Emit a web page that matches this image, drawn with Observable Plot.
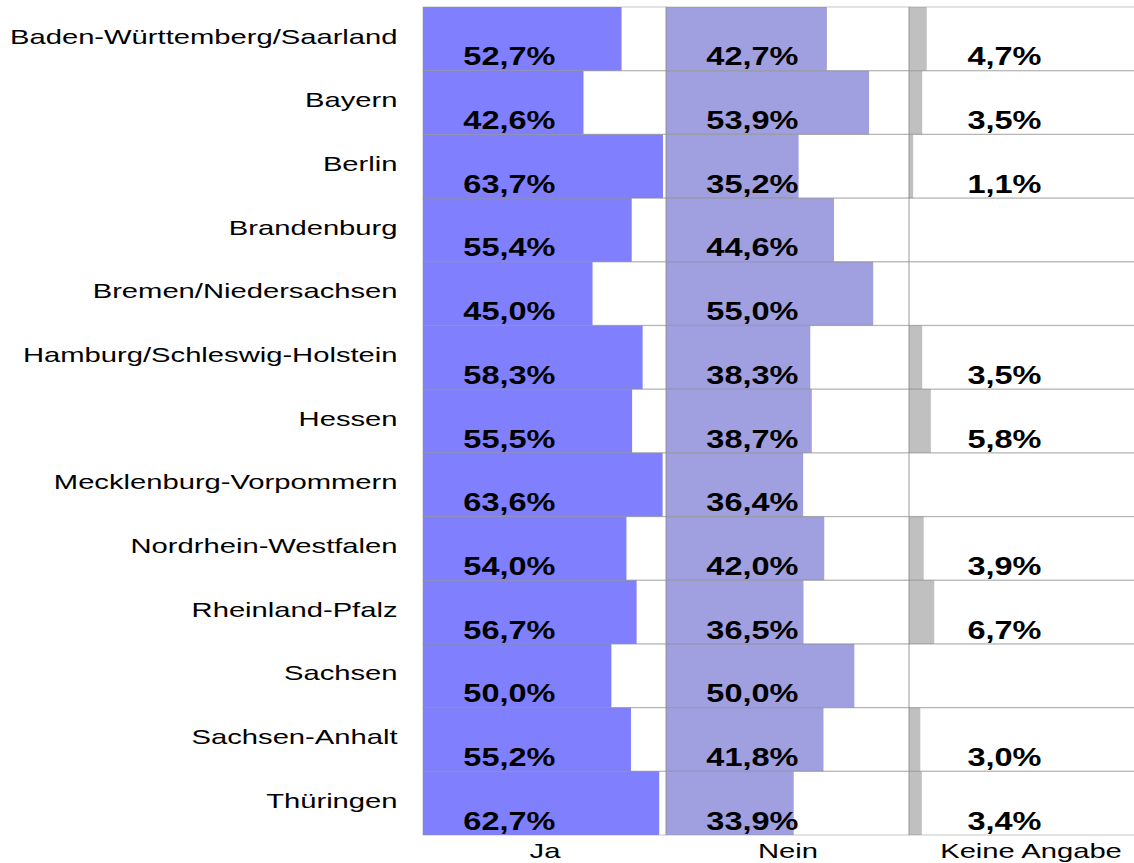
<!DOCTYPE html>
<html>
<head>
<meta charset="utf-8">
<script src="https://cdn.jsdelivr.net/npm/d3@7"></script>
<script src="https://cdn.jsdelivr.net/npm/@observablehq/plot@0.6"></script>
<style>
  html, body { margin: 0; padding: 0; background: white; overflow: hidden; }
</style>
</head>
<body>
<div id="chart"></div>
<script>
const states = [
  "Baden-Württemberg/Saarland", "Bayern", "Berlin", "Brandenburg",
  "Bremen/Niedersachsen", "Hamburg/Schleswig-Holstein", "Hessen",
  "Mecklenburg-Vorpommern", "Nordrhein-Westfalen", "Rheinland-Pfalz",
  "Sachsen", "Sachsen-Anhalt", "Thüringen"
];
const ja    = [52.7, 42.6, 63.7, 55.4, 45.0, 58.3, 55.5, 63.6, 54.0, 56.7, 50.0, 55.2, 62.7];
const nein  = [42.7, 53.9, 35.2, 44.6, 55.0, 38.3, 38.7, 36.4, 42.0, 36.5, 50.0, 41.8, 33.9];
const keine = [4.7, 3.5, 1.1, null, null, 3.5, 5.8, null, 3.9, 6.7, null, 3.0, 3.4];
const answers = ["Ja", "Nein", "Keine Angabe"];
const colors = ["#8080ff", "#a0a0e0", "#c0c0c0"];
const XMAX = 64.5;

const series = {"Ja": ja, "Nein": nein, "Keine Angabe": keine};
const rows = states.flatMap((s, i) => answers.map(a => ({state: s, answer: a, value: series[a][i]})))
  .filter(d => d.value != null);
const cells = states.flatMap(s => answers.map(a => ({state: s, answer: a})));
const fmt = v => v.toFixed(1).replace(".", ",") + "%";

const chart = Plot.plot({
  width: 1152,
  height: 863,
  marginLeft: 423,
  marginRight: 0,
  marginTop: 7,
  marginBottom: 28,
  style: {fontFamily: "'Liberation Sans', Arial, sans-serif", maxWidth: "none", background: "white", color: "black"},
  fx: {domain: answers, padding: 0, label: null, round: false},
  x: {domain: [0, XMAX], axis: null},
  y: {domain: states, padding: 0, label: null, axis: null, round: false},
  color: {domain: answers, range: colors},
  marks: [
    Plot.barX(rows, {fx: "answer", y: "state", x: "value", fill: "answer"}),
    Plot.barX(cells, {fx: "answer", y: "state", x: () => XMAX, fill: "none", stroke: "#8c8c8c", strokeOpacity: 0.4, strokeWidth: 1.2}),
    Plot.text(rows, {
      fx: "answer", y: "state", text: d => fmt(d.value),
      frameAnchor: "left", dx: 132, textAnchor: "end", lineAnchor: "bottom", dy: 26,
      fontSize: 25, fontWeight: "bold", fill: "black"
    }),
    Plot.axisY({tickSize: 0, tickPadding: 26, fontSize: 21, dy: -2.5, label: null}),
    Plot.axisFx({anchor: "bottom", tickSize: 0, tickPadding: 8, fontSize: 21, label: null})
  ]
});

// Source chart shows horizontally stretched lettering
chart.querySelectorAll("text").forEach(t => {
  const bold = t.closest('[font-weight="bold"]');
  const s = bold ? 1.3 : 1.39;
  const tr = t.getAttribute("transform") || "";
  t.setAttribute("transform", (tr + ` scale(${s},1)`).trim());
});

document.getElementById("chart").appendChild(chart);
</script>
</body>
</html>
